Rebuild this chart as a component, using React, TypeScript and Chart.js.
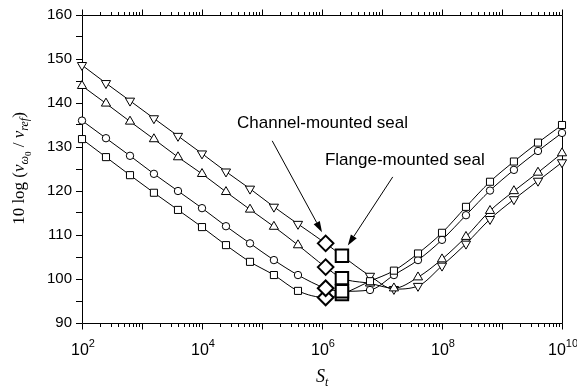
import { useEffect, useRef } from 'react';
import { Chart, registerables } from 'chart.js';

Chart.register(...registerables);

// ---- data ----
const ST_LEFT = [1e2, 2.51e2, 6.31e2, 1.58e3, 3.98e3, 1e4, 2.51e4, 6.31e4, 1.58e5, 3.98e5];
const ST_RIGHT = [6.31e6, 1.58e7, 3.98e7, 1e8, 2.51e8, 6.31e8, 1.58e9, 3.98e9, 1e10];
const ST_CHANNEL = 1.15e6;
const ST_FLANGE = 2.15e6;

const SQUARE_LEFT = [131.8, 127.7, 123.6, 119.6, 115.7, 111.8, 107.7, 103.9, 100.9, 97.3];
const SQUARE_RIGHT = [99.5, 101.9, 105.8, 110.5, 116.4, 122.1, 126.7, 131.0, 135.0];
const CIRCLE_LEFT = [136.0, 132.0, 128.0, 123.9, 120.0, 116.1, 112.0, 108.1, 104.3, 100.9];
const CIRCLE_RIGHT = [97.5, 100.9, 104.3, 108.9, 114.5, 120.1, 124.8, 129.1, 133.2];
const UP_LEFT = [143.9, 139.9, 135.8, 131.8, 127.7, 123.9, 119.8, 115.8, 111.9, 107.7];
const UP_RIGHT = [99.0, 97.9, 100.4, 104.5, 109.6, 115.5, 120.0, 124.2, 128.6];
const DOWN_LEFT = [148.6, 144.5, 140.5, 136.5, 132.5, 128.5, 124.4, 120.5, 116.4, 112.5];
const DOWN_RIGHT = [100.7, 97.7, 98.4, 103.0, 108.0, 113.6, 118.1, 122.3, 126.5];

// channel-mounted (diamond) and flange-mounted (big square) values: down, up, circle, square
const CHANNEL = [108.1, 102.7, 97.9, 95.8];
const FLANGE = [105.3, 100.2, 97.2, 96.6];

const Y_MIN = 90;
const Y_MAX = 160;
const X_MIN = 1e2;
const X_MAX = 1e10;
const X_LABEL_EXPS = [2, 4, 6, 8, 10];
const X_DECADES = [2, 3, 4, 5, 6, 7, 8, 9];
const X_MULTS = [1, 2, 3, 4, 5, 6, 7, 8, 9];

const ANNOTATIONS = [
  { text: 'Channel-mounted seal', tx: 3.83e4, ty: 135.4, from: [1.48e5, 131.4], to: [1.0e6, 110.6] },
  { text: 'Flange-mounted seal', tx: 1.12e6, ty: 127.0, from: [1.51e7, 123.2], to: [2.69e6, 107.6] },
];

const SANS = '"Liberation Sans", Arial, Helvetica, sans-serif';
const SERIF = '"Liberation Serif", "Times New Roman", serif';

function curve(left: number[], right: number[], ch: number, fl: number, style: string, r: number, rot: number) {
  const data: any[] = [
    ...ST_LEFT.map((x, i) => ({ x, y: left[i] })),
    { x: ST_CHANNEL, y: ch, m: true },
    { x: ST_FLANGE, y: fl, m: true },
    ...ST_RIGHT.map((x, i) => ({ x, y: right[i] })),
  ];
  return {
    type: 'line',
    data,
    borderColor: '#000',
    borderWidth: 1,
    pointStyle: style,
    pointRotation: rot,
    pointRadius: (c: any) => (c.raw && c.raw.m ? 0 : r),
    pointHoverRadius: 0,
    pointBackgroundColor: '#fff',
    pointBorderColor: '#000',
    pointBorderWidth: 1,
    cubicInterpolationMode: 'monotone',
    clip: false,
    order: 2,
  };
}

const framePlugin = {
  id: 'frame',
  beforeDatasetsDraw(chart: any) {
    const ctx = chart.ctx;
    const { left, right, top, bottom } = chart.chartArea;
    const xs = chart.scales.x;
    ctx.save();
    ctx.strokeStyle = '#000';
    ctx.lineWidth = 1;
    ctx.beginPath();
    ctx.moveTo(left + 0.5, top + 0.5);
    ctx.lineTo(right + 0.5, top + 0.5);
    ctx.lineTo(right + 0.5, bottom + 0.5);
    ctx.lineTo(left + 0.5, bottom + 0.5);
    ctx.closePath();
    ctx.stroke();
    // x ticks bottom & top
    ctx.beginPath();
    const vals: number[] = [];
    X_DECADES.forEach((d) => X_MULTS.forEach((m) => vals.push(m * Math.pow(10, d))));
    vals.push(X_MAX);
    vals.forEach((v) => {
      const px = Math.round(xs.getPixelForValue(v)) + 0.5;
      const major = Math.abs(Math.log10(v) - Math.round(Math.log10(v))) < 1e-9;
      const len = major ? 6 : 3.5;
      ctx.moveTo(px, bottom + 0.5);
      ctx.lineTo(px, bottom + 0.5 + len);
      ctx.moveTo(px, top + 0.5);
      ctx.lineTo(px, top + 0.5 - len);
    });
    ctx.stroke();
    ctx.restore();
  },
  afterDraw(chart: any) {
    const ctx = chart.ctx;
    const { bottom } = chart.chartArea;
    const xs = chart.scales.x;
    const ys = chart.scales.y;
    ctx.save();
    ctx.fillStyle = '#000';
    ctx.textBaseline = 'alphabetic';
    ctx.textAlign = 'left';
    // x tick labels 10^n
    X_LABEL_EXPS.forEach((e) => {
      const px = xs.getPixelForValue(Math.pow(10, e));
      ctx.font = `16px ${SANS}`;
      const wb = ctx.measureText('10').width;
      ctx.font = `11px ${SANS}`;
      const we = ctx.measureText(String(e)).width;
      const start = px - (wb + we) / 2 + 1;
      ctx.font = `16px ${SANS}`;
      ctx.fillText('10', start, bottom + 32);
      ctx.font = `11px ${SANS}`;
      ctx.fillText(String(e), start + wb, bottom + 24);
    });
    // x title S_t
    ctx.font = `italic 18px ${SERIF}`;
    const wS = ctx.measureText('S').width;
    const sx = (chart.chartArea.left + chart.chartArea.right) / 2 - 6;
    ctx.fillText('S', sx, 382);
    ctx.font = `italic 12px ${SERIF}`;
    ctx.fillText('t', sx + wS, 386);

    // y title
    const segs = [
      { t: '10 log (', f: `17px ${SERIF}`, dy: 0 },
      { t: 'v', f: `italic 17px ${SERIF}`, dy: 0 },
      { t: 'ω', f: `italic 12px ${SERIF}`, dy: 4 },
      { t: '0', f: `9px ${SERIF}`, dy: 7 },
      { t: ' / ', f: `17px ${SERIF}`, dy: 0 },
      { t: 'v', f: `italic 17px ${SERIF}`, dy: 0 },
      { t: 'ref', f: `italic 12px ${SERIF}`, dy: 4 },
      { t: ')', f: `17px ${SERIF}`, dy: 0 },
    ];
    let total = 0;
    const widths = segs.map((s) => {
      ctx.font = s.f;
      const w = ctx.measureText(s.t).width;
      total += w;
      return w;
    });
    ctx.save();
    ctx.translate(24, 168.5);
    ctx.rotate(-Math.PI / 2);
    let cx = -total / 2;
    segs.forEach((s, i) => {
      ctx.font = s.f;
      ctx.fillText(s.t, cx, s.dy);
      cx += widths[i];
    });
    ctx.restore();

    // annotations
    ctx.font = `17px ${SANS}`;
    ctx.textBaseline = 'middle';
    ANNOTATIONS.forEach((a) => {
      ctx.fillText(a.text, xs.getPixelForValue(a.tx), ys.getPixelForValue(a.ty));
      const x1 = xs.getPixelForValue(a.from[0]);
      const y1 = ys.getPixelForValue(a.from[1]);
      const x2 = xs.getPixelForValue(a.to[0]);
      const y2 = ys.getPixelForValue(a.to[1]);
      const ang = Math.atan2(y2 - y1, x2 - x1);
      const hl = 11;
      const hw = 3.5;
      const bx = x2 - Math.cos(ang) * hl;
      const by = y2 - Math.sin(ang) * hl;
      ctx.strokeStyle = '#000';
      ctx.lineWidth = 1;
      ctx.beginPath();
      ctx.moveTo(x1, y1);
      ctx.lineTo(bx, by);
      ctx.stroke();
      ctx.beginPath();
      ctx.moveTo(x2, y2);
      ctx.lineTo(bx + Math.sin(ang) * hw, by - Math.cos(ang) * hw);
      ctx.lineTo(bx - Math.sin(ang) * hw, by + Math.cos(ang) * hw);
      ctx.closePath();
      ctx.fill();
    });
    ctx.restore();
  },
};

export default function App() {
  const ref = useRef<HTMLCanvasElement>(null);
  useEffect(() => {
    const datasets: any[] = [
      {
        type: 'line',
        data: [...CHANNEL].reverse().map((y) => ({ x: ST_CHANNEL, y })),
        showLine: false,
        pointStyle: 'rectRot',
        pointRadius: 7.8,
        pointHoverRadius: 0,
        pointBackgroundColor: '#fff',
        pointBorderColor: '#000',
        pointBorderWidth: 2,
        clip: false,
        order: 0,
      },
      {
        type: 'line',
        data: [...FLANGE].reverse().map((y) => ({ x: ST_FLANGE, y })),
        showLine: false,
        pointStyle: 'rect',
        pointRadius: 8.8,
        pointHoverRadius: 0,
        pointBackgroundColor: '#fff',
        pointBorderColor: '#000',
        pointBorderWidth: 2,
        clip: false,
        order: 0,
      },
      curve(SQUARE_LEFT, SQUARE_RIGHT, CHANNEL[3], FLANGE[3], 'rect', 5, 0),
      curve(CIRCLE_LEFT, CIRCLE_RIGHT, CHANNEL[2], FLANGE[2], 'circle', 3.7, 0),
      curve(UP_LEFT, UP_RIGHT, CHANNEL[1], FLANGE[1], 'triangle', 5.3, 0),
      curve(DOWN_LEFT, DOWN_RIGHT, CHANNEL[0], FLANGE[0], 'triangle', 5.3, 180),
    ];
    const chart = new Chart(ref.current as HTMLCanvasElement, {
      type: 'line',
      data: { datasets },
      options: {
        animation: false,
        responsive: true,
        maintainAspectRatio: false,
        events: [],
        layout: { padding: { top: 15, right: 15, left: 0, bottom: 0 } },
        plugins: { legend: { display: false }, tooltip: { enabled: false } },
        scales: {
          x: {
            type: 'logarithmic',
            min: X_MIN,
            max: X_MAX,
            grid: { display: false },
            border: { display: false },
            ticks: { display: false },
            afterFit: (s: any) => {
              s.height = 67;
            },
          },
          y: {
            type: 'linear',
            min: Y_MIN,
            max: Y_MAX,
            ticks: {
              stepSize: 5,
              color: '#000',
              padding: 4,
              font: { family: SANS, size: 15 },
              callback: (v: any) => (Number(v) % 10 === 0 ? String(v) : ''),
            },
            grid: { drawOnChartArea: false, tickLength: 6, color: '#000', tickColor: '#000' },
            border: { display: false },
            afterFit: (s: any) => {
              s.width = 82;
            },
          },
        },
      } as any,
      plugins: [framePlugin],
    } as any);
    return () => chart.destroy();
  }, []);
  return (
    <div style={{ position: 'fixed', left: 0, top: 0, width: 577, height: 390, background: '#fff' }}>
      <canvas ref={ref} />
    </div>
  );
}
